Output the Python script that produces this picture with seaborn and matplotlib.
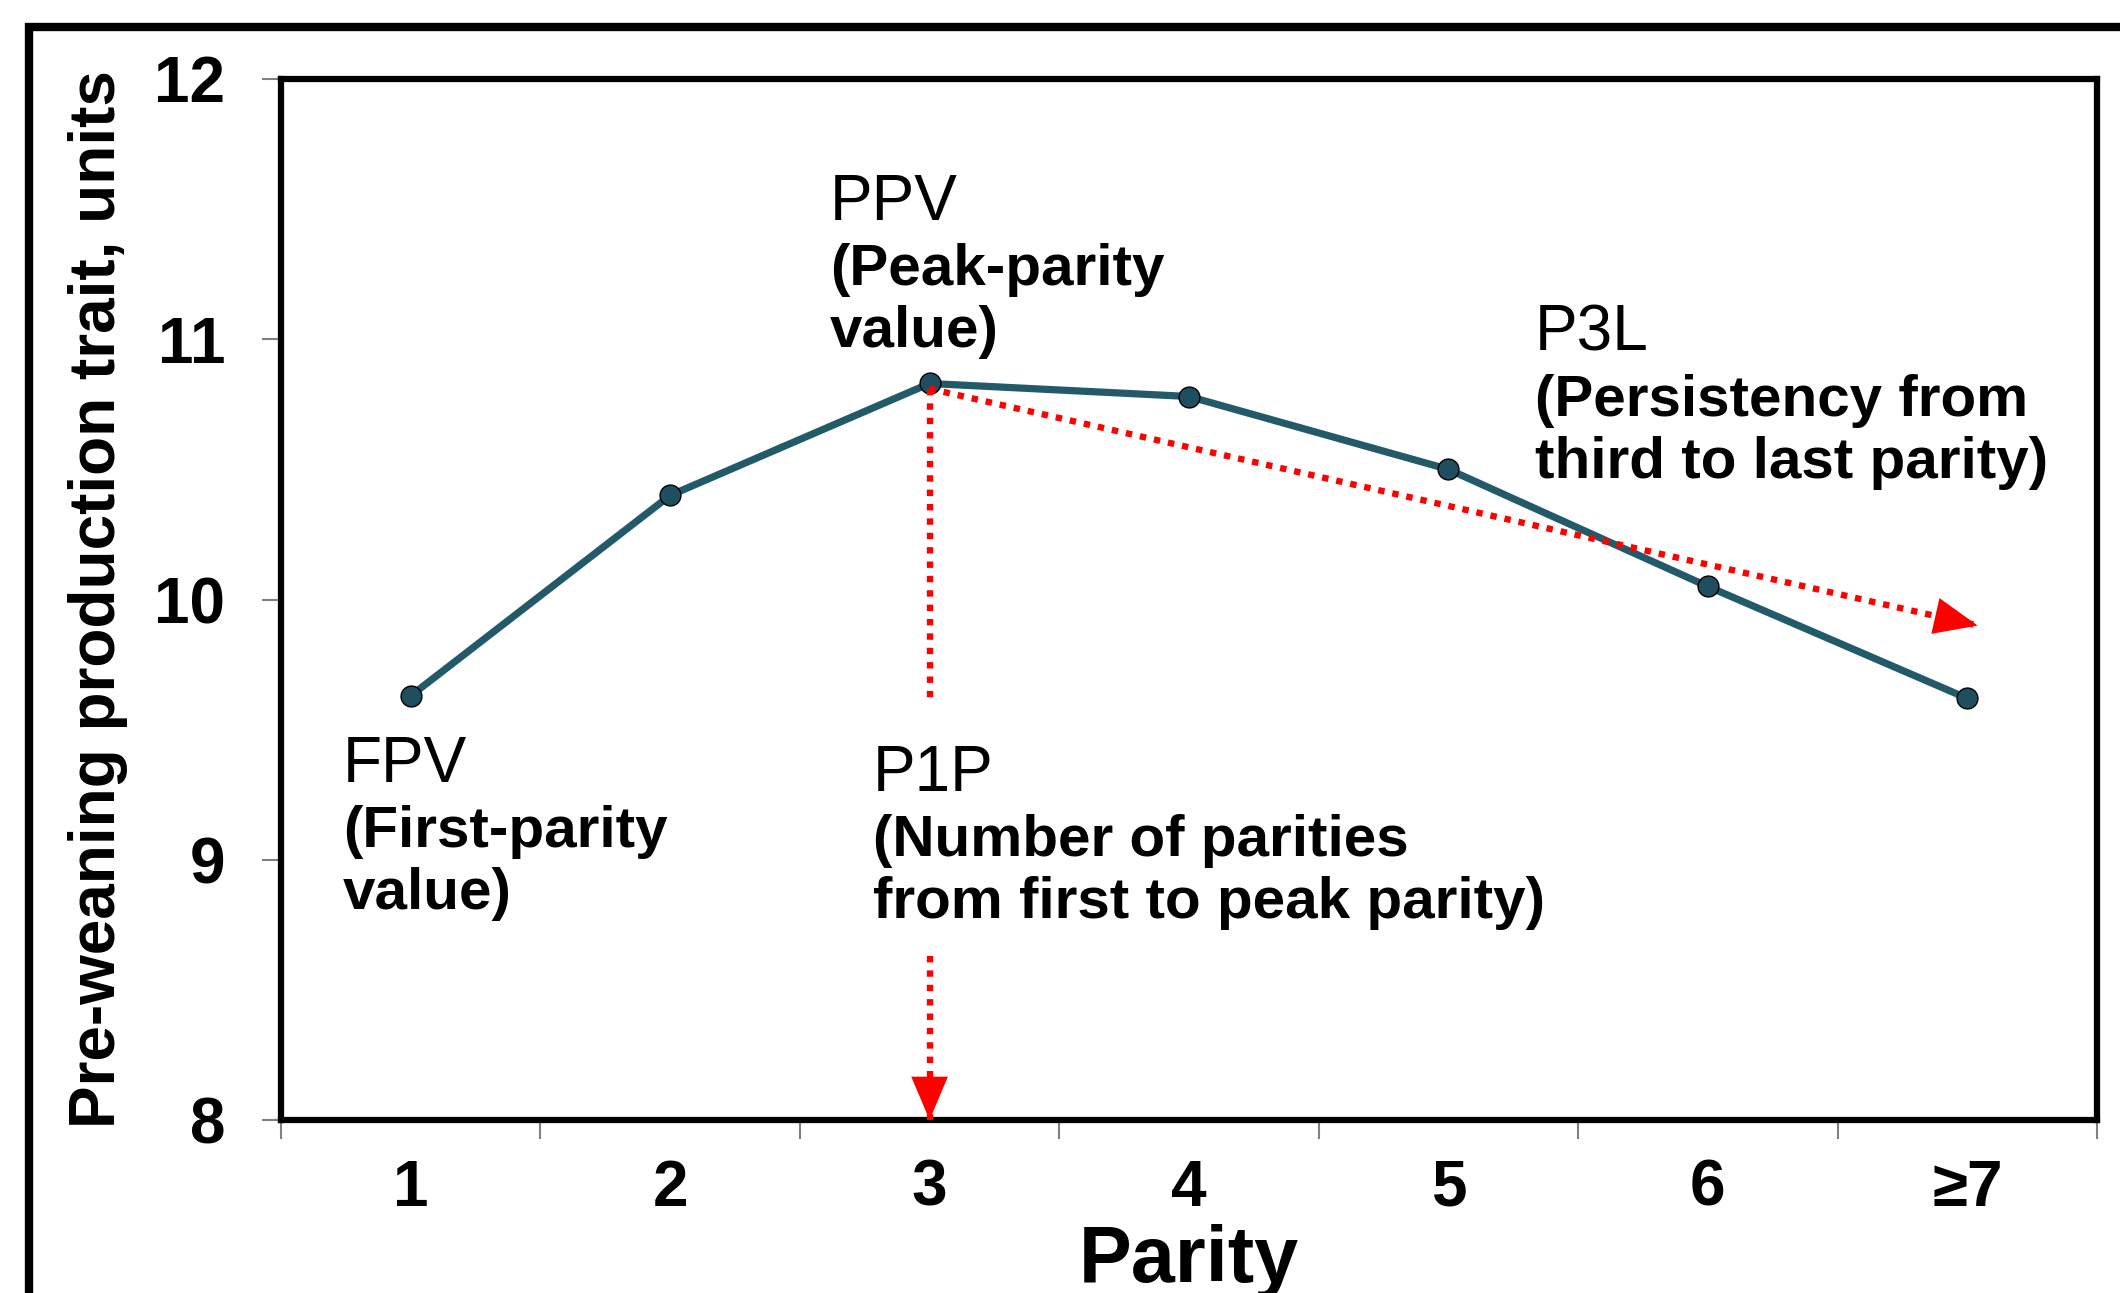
import numpy as np
import pandas as pd
import matplotlib
matplotlib.use("Agg")
import matplotlib.pyplot as plt
from matplotlib.lines import Line2D
import seaborn as sns

# ---------------- data ----------------
parity = ["1", "2", "3", "4", "5", "6", "≥7"]
trait = [9.63, 10.40, 10.83, 10.78, 10.50, 10.05, 9.62]
yticks = [8, 9, 10, 11, 12]

# annotation texts
heads = ["FPV", "PPV", "P1P", "P3L"]
subs = [
    ["(First-parity", "value)"],
    ["(Peak-parity", "value)"],
    ["(Number of parities", "from first to peak parity)"],
    ["(Persistency from", "third to last parity)"],
]

# arrows (category index, value)
peak_idx = 2
peak_y = 10.81
p1p_gap = (9.60, 8.63)       # vertical dotted line interrupted by the P1P label
p3l_end = (6.04, 9.90)       # tip of the persistency arrow

# ---------------- style ----------------
sns.set_theme(style="white")
plt.rcParams["font.family"] = ["Liberation Sans", "DejaVu Sans"]
plt.rcParams["text.color"] = "black"
plt.rcParams["axes.labelcolor"] = "black"
plt.rcParams["xtick.color"] = "black"
plt.rcParams["ytick.color"] = "black"

fig = plt.figure(figsize=(21.2, 12.93), dpi=100)
ax = fig.add_axes([281 / 2120, 1 - 1120 / 1293, 1816 / 2120, 1041 / 1293])

df = pd.DataFrame({"parity": parity, "trait": trait})
sns.pointplot(data=df, x="parity", y="trait", order=parity, color="#225A69",
              errorbar=None, ax=ax, linewidth=5.2, markersize=15,
              markeredgecolor="black", markeredgewidth=1.0, zorder=3)
for ln in ax.lines:
    ln.set_markerfacecolor("#1F4F5E")
    ln.set_markeredgecolor("black")

ax.set_xlim(-0.5, len(parity) - 0.5)
ax.set_ylim(yticks[0], yticks[-1])
ax.set_yticks(yticks)
ax.set_xticks(np.arange(len(parity)))
ax.set_xticklabels(parity)
ax.set_xticks(np.arange(-0.5, len(parity), 1), minor=True)

ax.tick_params(axis="y", which="major", left=True, length=14, width=1.5,
               color="#808080", labelcolor="black", pad=26, labelsize=46)
ax.tick_params(axis="x", which="major", bottom=True, length=0, pad=28,
               labelcolor="black", labelsize=46)
ax.tick_params(axis="x", which="minor", bottom=True, length=14, width=1.5,
               color="#808080")
for lab in ax.get_xticklabels() + ax.get_yticklabels():
    lab.set_fontweight("bold")

for sp in ax.spines.values():
    sp.set_color("black")
    sp.set_linewidth(4.5)
    sp.set_visible(True)
ax.grid(False)

ax.set_ylabel("Pre-weaning production trait, units", fontsize=46, fontweight="bold",
              color="black")
ax.yaxis.set_label_coords(-0.084, 0.5)
ax.set_xlabel("Parity", fontsize=57, fontweight="bold", color="black")
ax.xaxis.set_label_coords(0.5, -0.100)

# ---------------- red dotted arrows ----------------
red = "#FF0000"
dot = dict(color=red, lw=4.6, linestyle=(0, (1, 1.25)), zorder=4, dash_capstyle="butt")
# persistency arrow
ax.plot([peak_idx, p3l_end[0]], [peak_y, p3l_end[1]], **dot)
# vertical arrow to the peak parity
ax.plot([peak_idx, peak_idx], [peak_y, p1p_gap[0]], **dot)
ax.plot([peak_idx, peak_idx], [p1p_gap[1], yticks[0]], **dot)

head = dict(arrowstyle="-|>,head_length=1.3,head_width=0.55", mutation_scale=24,
            color=red, lw=0, shrinkA=0, shrinkB=0)
dx = p3l_end[0] - peak_idx
dy = p3l_end[1] - peak_y
ax.annotate("", xy=p3l_end, xytext=(p3l_end[0] - 0.08 * dx, p3l_end[1] - 0.08 * dy),
            arrowprops=head, zorder=5, annotation_clip=False)
ax.annotate("", xy=(peak_idx, yticks[0]), xytext=(peak_idx, yticks[0] + 0.2),
            arrowprops=head, zorder=5, annotation_clip=False)

# ---------------- labels ----------------
lab_x = [-0.261, 1.616, 1.782, 4.334]
lab_y = [9.30, 11.458, 9.264, 10.955]
head_gap = 0.25
line_gap = 0.238
for h, s, x, y in zip(heads, subs, lab_x, lab_y):
    ax.text(x, y, h, fontsize=46, ha="left", va="baseline", color="black", zorder=6)
    for i, line in enumerate(s):
        ax.text(x, y - head_gap - i * line_gap, line, fontsize=42, fontweight="bold",
                ha="left", va="baseline", color="black", zorder=6)

# ---------------- outer frame ----------------
fig.add_artist(Line2D([28.5 / 2120, 28.5 / 2120, 1.0], [0.0, 1 - 27 / 1293, 1 - 27 / 1293],
                      transform=fig.transFigure, color="black", lw=6,
                      solid_joinstyle="miter", solid_capstyle="butt"))

fig.savefig("out.png", dpi=100)
